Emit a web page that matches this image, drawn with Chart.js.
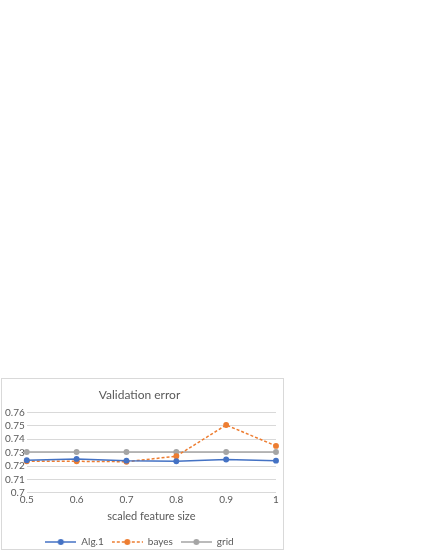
<!DOCTYPE html>
<html>
<head>
<meta charset="utf-8">
<script src="https://cdn.jsdelivr.net/npm/chart.js@4.4.1/dist/chart.umd.min.js"></script>
<style>
  html, body { margin: 0; padding: 0; background: #fff; }
  #box {
    position: absolute; left: 1px; top: 378px;
    width: 281px; height: 170px;
    border: 1px solid #d9d9d9; background: #fff;
    overflow: hidden;
  }
  #box canvas { display: block; }
</style>
</head>
<body>
<div id="box"><canvas id="myLineChart" width="281" height="178"></canvas></div>
<script>
// chart data
var categories = ['0.5', '0.6', '0.7', '0.8', '0.9', '1'];
var alg1 = [0.7243, 0.7253, 0.7240, 0.7236, 0.7248, 0.7240];
var bayes = [0.7235, 0.7235, 0.7232, 0.7273, 0.7506, 0.7350];
var grid = [0.7305, 0.7305, 0.7305, 0.7305, 0.7305, 0.7305];
var yTicks = [0.7, 0.71, 0.72, 0.73, 0.74, 0.75, 0.76];

var blue = '#4472C4', orange = '#ED7D31', gray = '#A5A5A5';
var txt = '#595959';
var fontFam = 'Lato, "Open Sans", sans-serif';

// legend marker: short line with a dot in the middle
function marker(color, dashed) {
    var c = document.createElement('canvas');
    c.width = 31; c.height = 8;
    var g = c.getContext('2d');
    g.strokeStyle = color;
    g.lineWidth = 1.5;
    if (dashed) g.setLineDash([3, 2]);
    g.beginPath(); g.moveTo(0, 4); g.lineTo(31, 4); g.stroke();
    g.setLineDash([]);
    g.fillStyle = color;
    g.beginPath(); g.arc(15.5, 4, 3, 0, Math.PI * 2); g.fill();
    return c;
}

var ctx = document.getElementById('myLineChart').getContext('2d');
var myLineChart = new Chart(ctx, {
    type: 'line',
    data: {
        labels: categories,
        datasets: [{
            label: 'Alg.1',
            data: alg1,
            borderColor: blue,
            backgroundColor: blue,
            borderWidth: 1.5,
            pointRadius: 2.2,
            pointStyleImg: marker(blue, false)
        }, {
            label: 'bayes',
            data: bayes,
            borderColor: orange,
            backgroundColor: orange,
            borderWidth: 1.5,
            borderDash: [3, 2],
            pointRadius: 2.2,
            pointStyleImg: marker(orange, true)
        }, {
            label: 'grid',
            data: grid,
            borderColor: gray,
            backgroundColor: gray,
            borderWidth: 1.5,
            pointRadius: 2.2,
            pointStyleImg: marker(gray, false)
        }]
    },
    options: {
        responsive: false,
        animation: false,
        layout: { padding: { left: 1, right: 7, top: 0, bottom: 0 } },
        plugins: {
            title: {
                display: true,
                text: 'Validation error',
                color: txt,
                font: { family: fontFam, size: 12, weight: 'normal' },
                padding: { top: 9, bottom: 10 }
            },
            legend: {
                position: 'bottom',
                labels: {
                    color: txt,
                    font: { family: fontFam, size: 10 },
                    usePointStyle: true,
                    pointStyleWidth: 31,
                    boxHeight: 8,
                    padding: 8,
                    generateLabels: function (chart) {
                        return chart.data.datasets.map(function (ds, i) {
                            return {
                                text: ds.label,
                                pointStyle: ds.pointStyleImg,
                                fontColor: txt,
                                lineWidth: 0,
                                datasetIndex: i
                            };
                        });
                    }
                }
            },
            tooltip: { enabled: false }
        },
        scales: {
            x: {
                offset: false,
                grid: { display: false, drawTicks: false },
                border: { display: false },
                ticks: {
                    color: txt,
                    padding: 1,
                    maxRotation: 0,
                    font: { family: fontFam, size: 10 }
                },
                title: {
                    display: true,
                    text: 'scaled feature size',
                    color: txt,
                    font: { family: fontFam, size: 11 },
                    padding: { top: 3, bottom: 6 }
                }
            },
            y: {
                min: yTicks[0],
                max: yTicks[yTicks.length - 1],
                afterBuildTicks: function (axis) {
                    axis.ticks = yTicks.map(function (v) { return { value: v }; });
                },
                grid: { color: '#d9d9d9', drawTicks: false },
                border: { display: false },
                ticks: {
                    color: txt,
                    padding: 2,
                    autoSkip: false,
                    font: { family: fontFam, size: 10 },
                    callback: function (v) { return String(+v.toFixed(2)); }
                }
            }
        }
    }
});
</script>
</body>
</html>
